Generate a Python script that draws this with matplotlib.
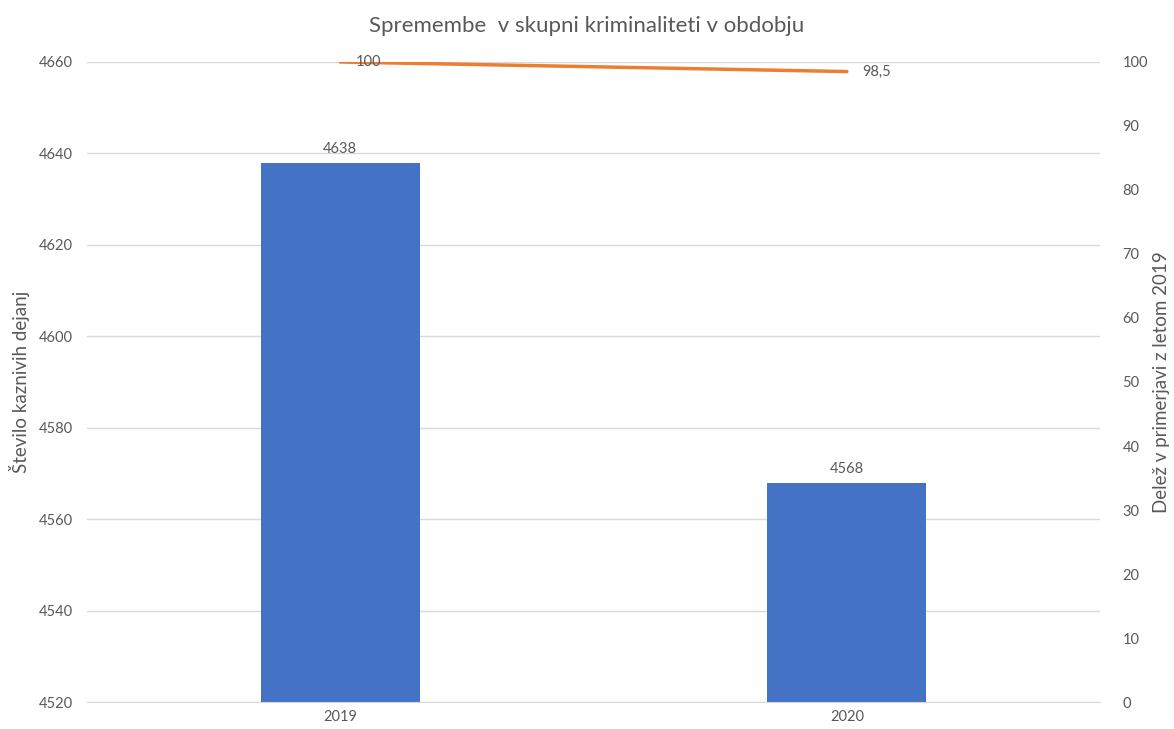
import numpy as np
import matplotlib
matplotlib.use('Agg')
import matplotlib.pyplot as plt

plt.rcParams['font.family'] = ['Lato', 'DejaVu Sans']

years = ['2019', '2020']
counts = [4638, 4568]
share = [100, 98.5]
share_labels = ['100', '98,5']

bar_color = '#4472C4'
line_color = '#ED7D31'
text_color = '#595959'
grid_color = '#D9D9D9'

fig = plt.figure(figsize=(11.74, 7.29), dpi=100)
ax = fig.add_axes([0.0741, 0.037, 0.863, 0.878])
ax2 = ax.twinx()

x = np.arange(len(years))
ax.bar(x, counts, width=0.314, color=bar_color, zorder=2)
ax.set_ylim(4520, 4660)
ax.set_yticks(np.arange(4520, 4661, 20))
ax.set_xlim(-0.5, 1.5)
ax.set_xticks(x)
ax.set_xticklabels(years)
ax.grid(axis='y', color=grid_color, lw=1, zorder=0)
for i, v in enumerate(counts):
    ax.text(x[i], v + 1.5, str(v), ha='center', va='bottom', fontsize=10.5, color=text_color)

ax2.plot(x, share, color=line_color, lw=2.5, solid_capstyle='round', zorder=3)
ax2.set_ylim(0, 100)
ax2.set_yticks(np.arange(0, 101, 10))
for i, v in enumerate(share):
    ax2.text(x[i] + 0.03, v, share_labels[i], ha='left', va='center', fontsize=10.5, color=text_color)

for a in (ax, ax2):
    for s in a.spines.values():
        s.set_visible(False)
    a.tick_params(length=0, colors=text_color, labelsize=10.5)
ax.spines['bottom'].set_visible(True)
ax.spines['bottom'].set_color(grid_color)
ax.tick_params(axis='y', pad=10)
ax.tick_params(axis='x', pad=6)
ax2.tick_params(axis='y', pad=16)

ax.set_ylabel('Število kaznivih dejanj', fontsize=13.5, color=text_color)
ax.yaxis.set_label_coords(-0.056, 0.5)
ax2.set_ylabel('Delež v primerjavi z letom 2019', fontsize=13.5, color=text_color)
ax2.yaxis.set_label_coords(1.052, 0.5)
fig.suptitle('Spremembe  v skupni kriminaliteti v obdobju', fontsize=16, color=text_color, y=0.978)

fig.savefig('out.png', dpi=100)
